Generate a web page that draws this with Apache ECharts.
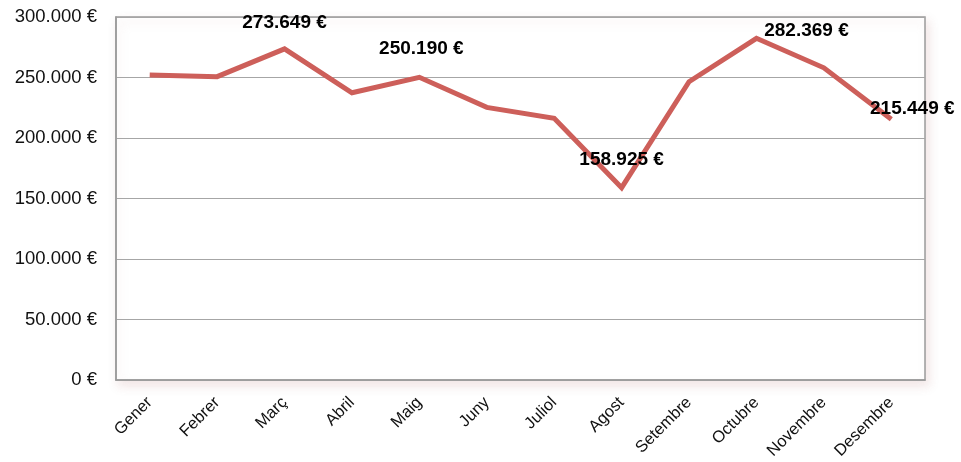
<!DOCTYPE html>
<html>
<head>
<meta charset="utf-8">
<script src="https://cdn.jsdelivr.net/npm/echarts@6/dist/echarts.min.js"></script>
<style>
  html, body { margin: 0; padding: 0; background: #fff; }
  #chart { width: 961px; height: 462px; }
</style>
</head>
<body>
<div id="chart"></div>
<script>
// mesos i imports (llegits del gràfic)
const months = ['Gener', 'Febrer', 'Març', 'Abril', 'Maig', 'Juny', 'Juliol', 'Agost', 'Setembre', 'Octubre', 'Novembre', 'Desembre'];
const amounts = [252000, 250700, 273649, 237400, 250190, 225300, 216300, 158925, 246500, 282369, 258000, 215449];
const yTicks = [0, 50000, 100000, 150000, 200000, 250000, 300000];
// mesos amb etiqueta i on va el text
const labelled = ['Març', 'Maig', 'Agost', 'Octubre', 'Desembre'];
const labelOffsets = [[0, -12], [2, -14], [0, -13], [50, 7], [21, 4]];

const fmt = v => v.toLocaleString('de-DE') + ' €';

const chart = echarts.init(document.getElementById('chart'));

const seriesData = amounts.map((v, i) => {
    const k = labelled.indexOf(months[i]);
    if (k < 0) return v;
    return {
        value: v,
        label: {
            show: true,
            position: 'top',
            distance: 5,
            offset: labelOffsets[k],
            formatter: p => fmt(p.value),
            fontFamily: 'Liberation Sans',
            fontWeight: 'bold',
            fontSize: 19,
            color: '#000'
        }
    };
});

chart.setOption({
    animation: false,
    grid: {
        left: 116,
        top: 17,
        right: 36,
        bottom: 82,
        show: true,
        backgroundColor: '#fff',
        borderColor: '#9a9a9a',
        borderWidth: 1.5,
        shadowColor: 'rgba(200, 150, 150, 0.25)',
        shadowBlur: 10,
        shadowOffsetX: 3,
        shadowOffsetY: 5
    },
    xAxis: {
        type: 'category',
        data: months,
        boundaryGap: true,
        axisLine: { lineStyle: { color: '#9a9a9a', width: 1.5 } },
        axisTick: { show: false },
        axisLabel: {
            rotate: 45,
            interval: 0,
            margin: 20,
            fontFamily: 'Liberation Sans',
            fontSize: 16.5,
            color: '#111'
        }
    },
    yAxis: {
        type: 'value',
        min: yTicks[0],
        max: yTicks[yTicks.length - 1],
        interval: yTicks[1] - yTicks[0],
        axisLine: { show: true, lineStyle: { color: '#9a9a9a', width: 1.5 } },
        axisTick: { show: false },
        splitLine: { lineStyle: { color: '#a6a6a6', width: 1.2 } },
        axisLabel: {
            margin: 19,
            formatter: v => fmt(v),
            fontFamily: 'Liberation Sans',
            fontSize: 18.5,
            color: '#111'
        }
    },
    series: [{
        type: 'line',
        data: seriesData,
        showSymbol: true,
        symbol: 'circle',
        symbolSize: 0,
        lineStyle: { color: '#cd5f5a', width: 5, join: 'miter' },
        itemStyle: { color: '#cd5f5a' }
    }]
});
</script>
</body>
</html>
